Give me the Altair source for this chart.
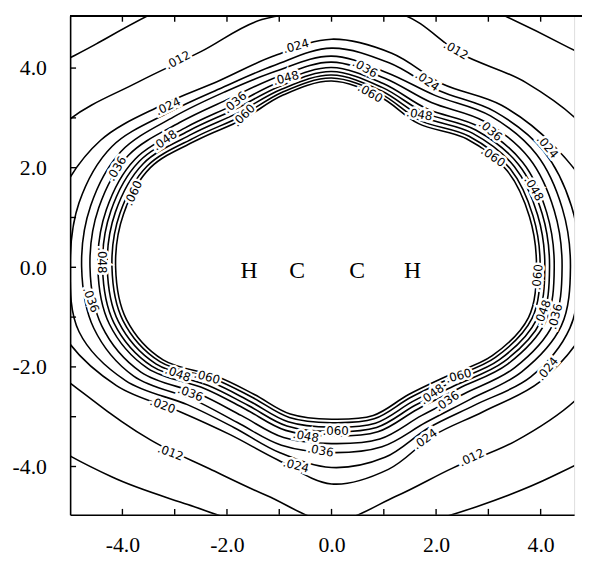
import altair as alt
import pandas as pd

# ---- data -----------------------------------------------------------------
angles = list(range(0, 360, 15))  # polar angle (deg) of each radius sample

# radius of every contour (data units) at the angles above, outermost first
r_c0 = [7.5, 7.3, 7.0, 6.3, 6.0, 6.0, 6.0, 6.0, 6.1, 6.35, 7.0, 7.5,
        7.6, 7.3, 6.6, 5.95, 5.5, 5.4, 5.4, 5.4, 5.55, 5.95, 6.6, 7.2]
r_c1 = [6.0, 5.8, 5.6, 5.25, 4.95, 5.25, 5.1, 5.15, 5.0, 5.25, 5.85, 6.3,
        6.5, 6.0, 5.3, 4.9, 4.67, 4.75, 5.1, 4.76, 4.65, 4.95, 5.37, 5.8]
r_c2 = [5.3, 5.2, 4.9, 4.6, 4.25, 4.45, 4.58, 4.38, 4.32, 4.6, 5.1, 5.4,
        5.6, 5.3, 4.75, 4.1, 3.88, 4.0, 4.35, 4.2, 3.9, 4.1, 4.6, 5.0]
r_c3 = [4.75, 4.75, 4.68, 4.42, 4.1, 4.25, 4.4, 4.2, 4.17, 4.4, 4.85, 5.0,
        5.0, 5.0, 4.55, 3.9, 3.72, 3.85, 4.02, 3.95, 3.72, 3.9, 4.4, 4.72]
r_i7 = [4.57, 4.57, 4.53, 4.30, 3.98, 4.05, 4.24, 4.08, 4.07, 4.27, 4.65, 4.77,
        4.78, 4.71, 4.37, 3.75, 3.60, 3.70, 3.72, 3.73, 3.60, 3.75, 4.20, 4.55]
r_i6 = [4.41, 4.41, 4.37, 4.14, 3.82, 3.93, 4.12, 3.96, 3.91, 4.11, 4.49, 4.61,
        4.62, 4.55, 4.21, 3.59, 3.44, 3.54, 3.54, 3.57, 3.44, 3.59, 4.04, 4.39]
r_i5 = [4.26, 4.26, 4.22, 3.99, 3.67, 3.82, 4.01, 3.85, 3.76, 3.96, 4.34, 4.46,
        4.47, 4.40, 4.06, 3.44, 3.29, 3.39, 3.39, 3.42, 3.29, 3.44, 3.89, 4.24]
r_i4 = [4.17, 4.17, 4.13, 3.90, 3.58, 3.74, 3.93, 3.77, 3.67, 3.87, 4.25, 4.37,
        4.38, 4.31, 3.97, 3.35, 3.20, 3.30, 3.30, 3.33, 3.20, 3.35, 3.80, 4.15]
r_i3 = [4.08, 4.08, 4.04, 3.81, 3.49, 3.67, 3.86, 3.70, 3.58, 3.78, 4.16, 4.28,
        4.29, 4.22, 3.88, 3.26, 3.11, 3.21, 3.21, 3.24, 3.11, 3.26, 3.71, 4.06]
r_i2 = [3.99, 3.99, 3.95, 3.72, 3.40, 3.61, 3.80, 3.64, 3.49, 3.69, 4.07, 4.19,
        4.20, 4.13, 3.79, 3.17, 3.02, 3.12, 3.12, 3.15, 3.02, 3.17, 3.62, 3.97]
r_i1 = [3.92, 3.92, 3.88, 3.65, 3.33, 3.55, 3.74, 3.58, 3.42, 3.62, 4.00, 4.12,
        4.13, 4.06, 3.72, 3.10, 2.95, 3.05, 3.05, 3.08, 2.95, 3.10, 3.55, 3.90]

contours = {"c0": r_c0, "c1": r_c1, "c2": r_c2, "c3": r_c3, "i7": r_i7,
            "i6": r_i6, "i5": r_i5, "i4": r_i4, "i3": r_i3, "i2": r_i2,
            "i1": r_i1}

# contour labels: text, position (data units) and rotation (deg)
lab_text = [".012", ".012", ".012", ".012",
            ".024", ".024", ".024", ".024", ".024", ".024", ".024", ".020",
            ".036", ".036", ".036", ".036", ".036", ".036", ".036", ".036", ".036",
            ".048", ".048", ".048", ".048", ".048", ".048", ".048", ".048", ".048",
            ".060", ".060", ".060", ".060", ".060", ".060", ".060", ".060"]
lab_x = [-2.94, 2.38, -3.08, 2.68,
         -3.13, -0.68, 1.83, 4.13, 4.13, 1.79, -0.68, -3.23,
         -4.11, -1.85, 0.64, 3.04, -4.60, -2.70, -0.21, 2.21, 4.28,
         -3.19, -0.87, 1.68, 3.87, -4.40, 4.04, -2.94, -0.49, 1.92,
         -3.79, -1.68, 0.74, 3.09, 3.94, -2.38, 0.08, 2.43]
lab_y = [4.16, 4.36, -3.72, -3.82,
         3.23, 4.44, 3.74, 2.42, -2.04, -3.45, -3.98, -2.77,
         1.98, 3.31, 4.00, 2.75, -0.65, -2.53, -3.68, -2.69, -0.99,
         2.55, 3.80, 3.07, 1.58, 0.14, -0.91, -2.14, -3.39, -2.55,
         1.49, 3.05, 3.50, 2.22, -0.20, -2.20, -3.29, -2.18]
lab_angle = [332, 30, 20, 335,
             335, 345, 35, 50, 310, 325, 15, 20,
             300, 320, 30, 40, 70, 20, 10, 325, 285,
             325, 345, 10, 60, 90, 290, 20, 10, 325,
             295, 315, 30, 35, 275, 15, 0, 345]

atoms = ["H", "C", "C", "H"]
atom_x = [-1.58, -0.66, 0.49, 1.55]
atom_y = [-0.08, -0.08, -0.08, -0.08]

x_ticks = [-4, -3, -2, -1, 0, 1, 2, 3, 4]
y_ticks = [-4, -3, -2, -1, 0, 1, 2, 3, 4]
x_labels = [-4.0, -2.0, 0.0, 2.0, 4.0]
y_labels = [-4.0, -2.0, 0.0, 2.0, 4.0]

X_DOMAIN = [-5.0, 4.64]
Y_DOMAIN = [-4.97, 5.05]
W, H = 511, 506

# ---- tables -----------------------------------------------------------------
rows = []
for name, rs in contours.items():
    for k, (a, r) in enumerate(zip(angles, rs)):
        rows.append({"line": name, "k": k, "a": a, "r": r})
cdf = pd.DataFrame(rows)
ldf = pd.DataFrame({"t": lab_text, "x": lab_x, "y": lab_y, "ang": lab_angle})
adf = pd.DataFrame({"t": atoms, "x": atom_x, "y": atom_y})
xt = pd.DataFrame({"v": x_ticks})
yt = pd.DataFrame({"v": y_ticks})

SERIF = "Liberation Serif"
LABEL_EXPR = "(datum.value < 0 ? '-' : '') + format(abs(datum.value), '.1f')"
xscale = alt.Scale(domain=X_DOMAIN, nice=False, zero=False)
yscale = alt.Scale(domain=Y_DOMAIN, nice=False, zero=False)

xaxis = alt.Axis(values=x_labels, labelExpr=LABEL_EXPR, title=None, grid=False,
                 ticks=False, domainColor="black", domainWidth=1.6,
                 labelFont=SERIF, labelFontSize=22, labelColor="black",
                 labelPadding=20)
yaxis = alt.Axis(values=y_labels, labelExpr=LABEL_EXPR, title=None, grid=False,
                 ticks=False, domainColor="black", domainWidth=1.6,
                 labelFont=SERIF, labelFontSize=22, labelColor="black",
                 labelPadding=24)

lines = alt.Chart(cdf).transform_calculate(
    px="datum.r * cos(datum.a * PI / 180)",
    py="datum.r * sin(datum.a * PI / 180)",
).mark_line(interpolate="cardinal-closed", clip=True, color="black",
            strokeWidth=1.6).encode(
    x=alt.X("px:Q", scale=xscale, axis=xaxis),
    y=alt.Y("py:Q", scale=yscale, axis=yaxis),
    detail="line:N",
    order="k:Q",
)

halo = alt.Chart(ldf).mark_text(font="DejaVu Sans", fontSize=12,
                                stroke="white", strokeWidth=5,
                                fill="white").encode(
    x=alt.X("x:Q", scale=xscale), y=alt.Y("y:Q", scale=yscale),
    text="t:N", angle=alt.Angle("ang:Q", scale=None))
labels = alt.Chart(ldf).mark_text(font="DejaVu Sans", fontSize=12,
                                  color="black").encode(
    x=alt.X("x:Q", scale=xscale), y=alt.Y("y:Q", scale=yscale),
    text="t:N", angle=alt.Angle("ang:Q", scale=None))

atoms_txt = alt.Chart(adf).mark_text(font=SERIF, fontSize=24,
                                     color="black").encode(
    x=alt.X("x:Q", scale=xscale), y=alt.Y("y:Q", scale=yscale), text="t:N")

top_border = alt.Chart(xt).mark_rule(color="black", strokeWidth=1.6).encode(
    x=alt.value(0), x2=alt.value(W + 8), y=alt.value(0))
top_ticks = alt.Chart(xt).mark_rule(color="black", strokeWidth=1.4).encode(
    x=alt.X("v:Q", scale=xscale), y=alt.value(0), y2=alt.value(6))
bot_ticks = alt.Chart(xt).mark_rule(color="black", strokeWidth=1.4).encode(
    x=alt.X("v:Q", scale=xscale), y=alt.value(H), y2=alt.value(H - 6))
left_ticks = alt.Chart(yt).mark_rule(color="black", strokeWidth=1.4).encode(
    y=alt.Y("v:Q", scale=yscale), x=alt.value(0), x2=alt.value(6))

chart = alt.layer(lines, halo, labels, atoms_txt, top_border, top_ticks,
                  bot_ticks, left_ticks).properties(
    width=W, height=H,
    padding={"left": 63, "top": 4, "right": 8, "bottom": 47},
    autosize=alt.AutoSizeParams(type="none"),
).configure_view(stroke=None).configure(background="white")

chart.save("out.html", embed_options={"renderer": "svg", "actions": False})
